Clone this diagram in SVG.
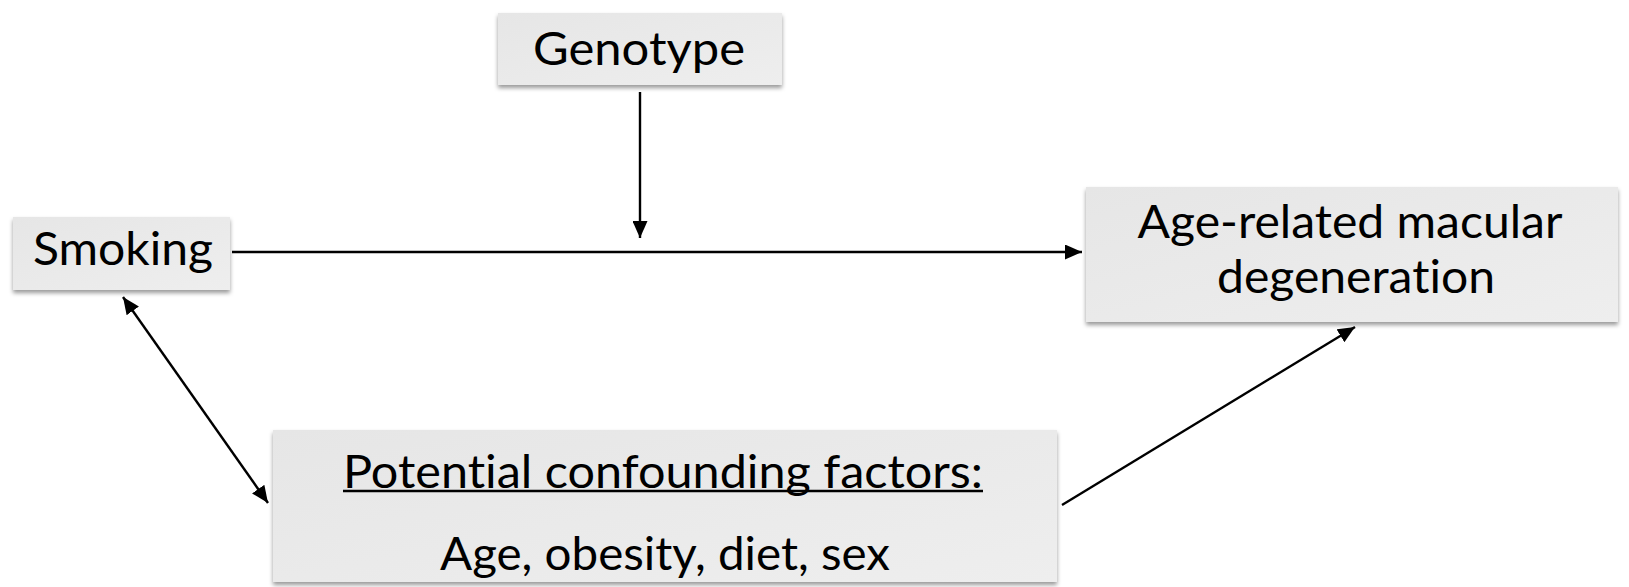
<svg xmlns="http://www.w3.org/2000/svg" width="1629" height="587" viewBox="0 0 1629 587">
  <defs>
    <linearGradient id="boxFill" x1="0" y1="0" x2="1" y2="1">
      <stop offset="0" stop-color="#e6e6e6"/>
      <stop offset="1" stop-color="#eeeeee"/>
    </linearGradient>
    <filter id="shadow" x="-5%" y="-10%" width="110%" height="130%">
      <feDropShadow dx="0" dy="3" stdDeviation="2.2" flood-color="#000" flood-opacity="0.4"/>
    </filter>
    <marker id="arrow" viewBox="0 0 17 15" markerWidth="17" markerHeight="15" refX="17" refY="7.5" orient="auto-start-reverse" markerUnits="userSpaceOnUse">
      <path d="M0,0 L17,7.5 L0,15 z" fill="#000"/>
    </marker>
  </defs>
  <style>
    .box { fill: url(#boxFill); filter: url(#shadow); }
    .label { font-family: "Gill Sans", "Gill Sans MT", Lato, "Liberation Sans", sans-serif; font-size: 47px; fill: #000; text-anchor: middle; font-variant-ligatures: none; }
    .edge { stroke: #000; stroke-width: 2.4; fill: none; marker-end: url(#arrow); }
  </style>

  <rect width="1629" height="587" fill="#fff"/>

  <!-- connectors -->
  <g id="connectors">
    <line class="edge" x1="640" y1="92" x2="640" y2="238"/>
    <line class="edge" x1="232" y1="252" x2="1082" y2="252"/>
    <line class="edge" x1="123" y1="297" x2="268" y2="503" marker-start="url(#arrow)"/>
    <line class="edge" x1="1062" y1="505" x2="1355" y2="327"/>
  </g>

  <g id="genotype">
    <rect class="box" x="498" y="13" width="284" height="72"/>
    <text class="label" x="639" y="65" textLength="212" lengthAdjust="spacingAndGlyphs">Genotype</text>
  </g>

  <g id="smoking">
    <rect class="box" x="13" y="217" width="217" height="73"/>
    <text class="label" x="123" y="265" textLength="180" lengthAdjust="spacingAndGlyphs">Smoking</text>
  </g>

  <g id="amd">
    <rect class="box" x="1086" y="187" width="532" height="135"/>
    <text class="label" x="1350" y="238" textLength="425" lengthAdjust="spacingAndGlyphs">Age-related macular</text>
    <text class="label" x="1356" y="293" textLength="278" lengthAdjust="spacingAndGlyphs">degeneration</text>
  </g>

  <g id="confounders">
    <rect class="box" x="273" y="430" width="784" height="152"/>
    <text class="label" x="663" y="488" textLength="640" lengthAdjust="spacingAndGlyphs">Potential confounding factors:</text>
    <line x1="343" y1="491" x2="983" y2="491" stroke="#000" stroke-width="2.5"/>
    <text class="label" x="665" y="570" textLength="450" lengthAdjust="spacingAndGlyphs">Age, obesity, diet, sex</text>
  </g>
</svg>
